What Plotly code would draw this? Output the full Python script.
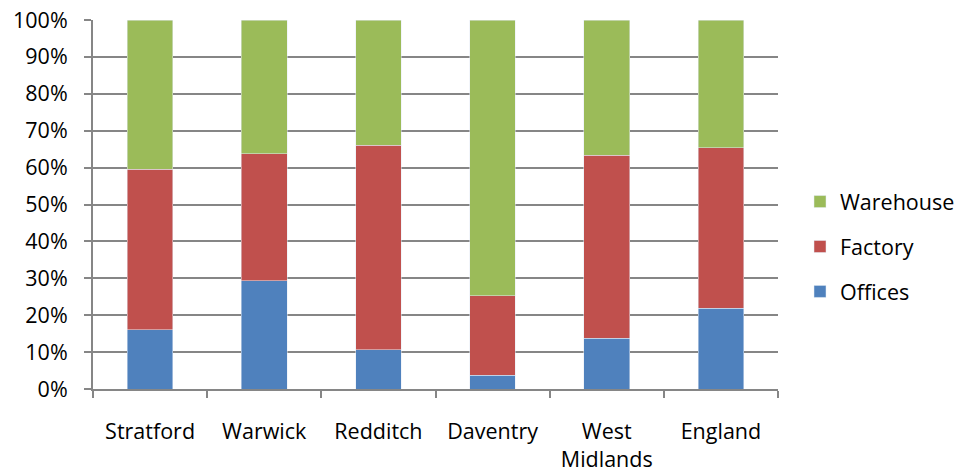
import plotly.graph_objects as go

categories = ["Stratford", "Warwick", "Redditch", "Daventry", "West<br>Midlands", "England"]
offices = [0.161, 0.293, 0.106, 0.037, 0.137, 0.219]
factory_top = [0.595, 0.638, 0.660, 0.253, 0.633, 0.654]
factory = [round(f - o, 3) for f, o in zip(factory_top, offices)]
warehouse = [round(1 - f, 3) for f in factory_top]
y_ticks = [i / 10 for i in range(11)]

FONT = "Open Sans"
FS = 21.5
fig = go.Figure()
fig.add_trace(go.Bar(name="Offices", x=categories, y=offices, marker_color="#4F81BD",
                     legendgroup="o", legendrank=3))
fig.add_trace(go.Bar(name="Factory", x=categories, y=factory, marker_color="#C0504D",
                     legendgroup="f", legendrank=2))
fig.add_trace(go.Bar(name="Warehouse", x=categories, y=warehouse, marker_color="#9BBB59",
                     legendgroup="w", legendrank=1))

L, R, T, B = 93, 0, 20, 85.5
W, H = 958, 475
pw = W - L - R
fig.update_layout(
    barmode="stack",
    bargap=0.6,
    width=W, height=H,
    margin=dict(l=L, r=R, t=T, b=B, pad=0, autoexpand=False),
    plot_bgcolor="white", paper_bgcolor="white",
    font=dict(family=FONT, size=FS, color="black"),
    legend=dict(x=(800 - L) / pw, y=0.386, yanchor="middle", xanchor="left",
                traceorder="grouped", tracegroupgap=14,
                font=dict(size=FS), itemwidth=30, bgcolor="rgba(0,0,0,0)"),
    showlegend=True,
)
fig.update_yaxes(range=[0, 1], tickvals=y_ticks, tickformat=".0%", automargin=False,
                 showgrid=True, gridcolor="#868686", gridwidth=1.5,
                 showline=True, linecolor="#868686", linewidth=2,
                 ticks="outside", ticklen=7, tickcolor="#868686", tickwidth=1.5,
                 ticklabelstandoff=12, zeroline=False)
fig.update_xaxes(domain=[0, (778 - L) / pw], automargin=False,
                 showline=True, linecolor="#868686", linewidth=2,
                 ticks="outside", ticklen=7, tickcolor="#868686", tickwidth=1.5,
                 tickson="boundaries", ticklabelstandoff=22)
fig.write_html("out.html")
